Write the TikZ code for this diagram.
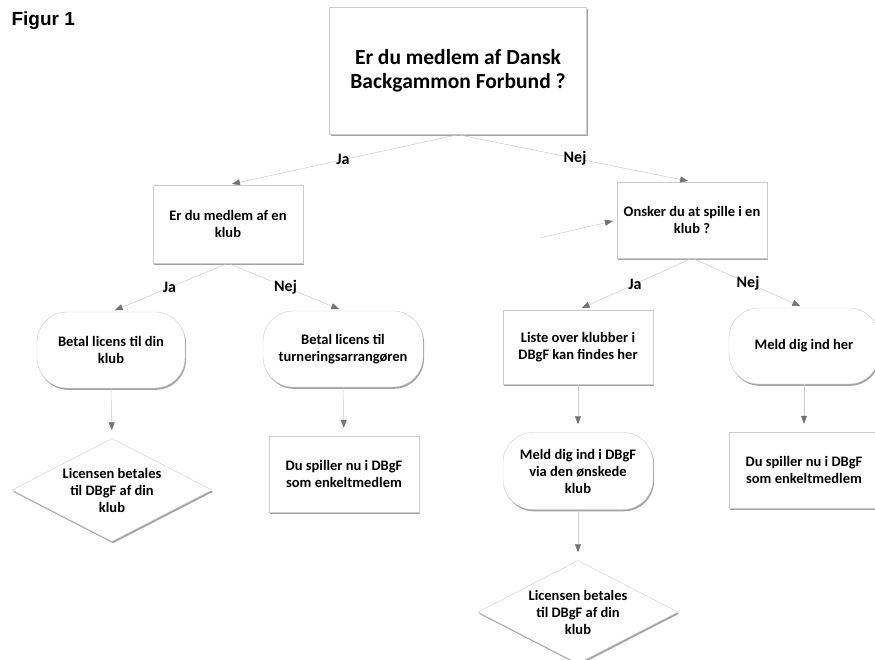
\documentclass[tikz,border=0pt]{standalone}
\usepackage{fontspec}
\setmainfont{Carlito}
\newfontfamily\figfont{Liberation Sans}
\usetikzlibrary{positioning,shapes.geometric,arrows.meta,shadows}

\tikzset{
  box/.style={draw=black!20, fill=white, line width=0.4pt,
    drop shadow={shadow xshift=1pt, shadow yshift=-1.8pt, fill=black!60, opacity=0.6},
    align=center, font=\fontsize{14.5}{17}\selectfont\bfseries,
    minimum width=150pt, minimum height=76pt, inner sep=2pt},
  roundbox/.style={box, rounded corners=30pt},
  choice/.style={box, diamond, shape aspect=2, inner sep=0pt,
    minimum width=200pt, minimum height=103pt},
  link/.style={draw=black!20, line width=0.5pt,
    -{Triangle[length=8pt, width=6pt, color=black!55]}, shorten >=4pt},
  answer/.style={font=\fontsize{16}{18}\selectfont\bfseries}
}

\begin{document}
\begin{tikzpicture}[x=1pt, y=-1pt]
  \useasboundingbox (0,0) rectangle (875,660);
  \node[anchor=west, font=\figfont\fontsize{19}{21}\selectfont\bfseries] (fig) at (8,21) {Figur 1};

  % question boxes
  \node[box, minimum width=257pt, minimum height=127pt,
        font=\fontsize{21.5}{24}\selectfont\bfseries] (top) at (458,71)
        {Er du medlem af Dansk\\Backgammon Forbund ?};
  \node[box, minimum height=78pt] (klub) at (228,224) {Er du medlem af en\\klub};
  \node[box] (onsker) at (692,220) {Onsker du at spille i en\\klub ?};

  % third row
  \node[roundbox, minimum width=148pt] (betaldin) at (111,350) {Betal licens til din\\klub};
  \node[roundbox, minimum width=160pt] (betalturn) at (343,349) {Betal licens til\\turneringsarrangøren};
  \node[box, minimum height=74pt] (liste) at (578,347) {Liste over klubber i\\DBgF kan findes her};
  \node[roundbox] (meldher) at (804,346) {Meld dig ind her};

  % fourth row
  \node[choice] (licensA) at (112,490) {Licensen betales\\til DBgF af din\\klub};
  \node[box] (enkeltA) at (344,474) {Du spiller nu i DBgF\\som enkeltmedlem};
  \node[roundbox, minimum height=77pt] (meldvia) at (578,471) {Meld dig ind i DBgF\\via den ønskede\\klub};
  \node[box] (enkeltB) at (804,470) {Du spiller nu i DBgF\\som enkeltmedlem};
  \node[choice] (licensB) at (578,612) {Licensen betales\\til DBgF af din\\klub};

  % connectors
  \draw[link] (top.south) -- node[answer] (ja1) {Ja} (klub.north);
  \draw[link] (top.south) -- node[answer] (nej1) {Nej} (onsker.north);
  \draw[link] (klub.south) -- node[answer] (ja2) {Ja} (betaldin.north);
  \draw[link] (klub.south) -- node[answer] (nej2) {Nej} (betalturn.north);
  \draw[link] (onsker.south) -- node[answer] (ja3) {Ja} (liste.north);
  \draw[link] (onsker.south) -- node[answer] (nej3) {Nej} (meldher.north);
  \coordinate (stray) at (540,238);
  \draw[link] (stray) -- (onsker.west);
  \draw[link, shorten >=8pt] (betaldin.south) -- (licensA.north);
  \draw[link, shorten >=8pt] (betalturn.south) -- (enkeltA.north);
  \draw[link, shorten >=8pt] (liste.south) -- (meldvia.north);
  \draw[link, shorten >=8pt] (meldher.south) -- (enkeltB.north);
  \draw[link, shorten >=8pt] (meldvia.south) -- (licensB.north);
\end{tikzpicture}
\end{document}
